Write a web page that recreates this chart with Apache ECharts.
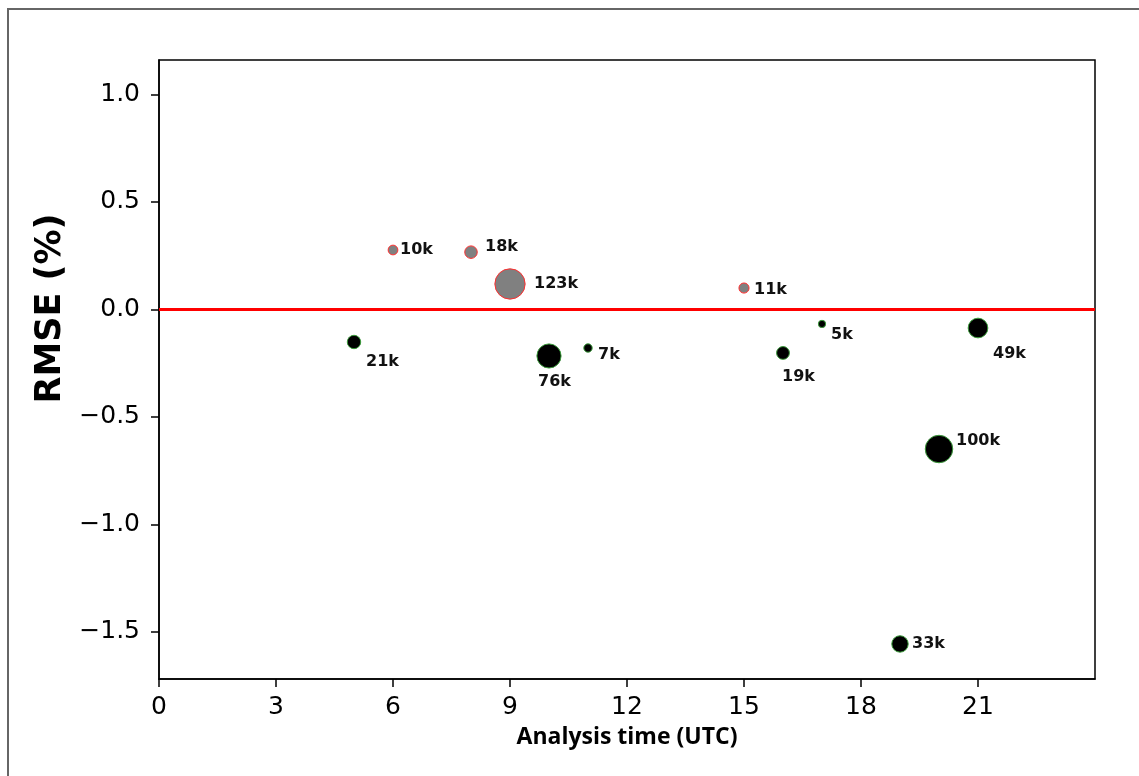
<!DOCTYPE html>
<html>

<head>
    <meta charset="utf-8">
    <title>RMSE by analysis time</title>
    <script src="https://cdn.jsdelivr.net/npm/echarts@6/dist/echarts.min.js"></script>
    <style>
        body { margin: 0; background: #fff; }
        #frame { position: absolute; left: 7px; top: 8px; width: 1140px; height: 780px;
                 border-left: 2px solid #666; border-top: 2px solid #666; }
        #main { position: absolute; left: 0; top: 0; width: 1139px; height: 776px; }
    </style>
</head>

<body>
    <div id="frame"></div>
    <div id="main"></div>
    <script type="text/javascript">

    // analysis hour, RMSE (%) and number of obs (k)
    var hours  = [5, 6, 8, 9, 10, 11, 15, 16, 17, 19, 20, 21];
    var rmse   = [-0.152, 0.276, 0.266, 0.118, -0.217, -0.180, 0.099, -0.203, -0.068, -1.557, -0.650, -0.087];
    var counts = [21, 10, 18, 123, 76, 7, 11, 19, 5, 33, 100, 49];

    var xTicks = [0, 3, 6, 9, 12, 15, 18, 21];
    var yTicks = [-1.5, -1.0, -0.5, 0.0, 0.5, 1.0];

    // where each count label sits relative to its dot (px)
    var labelOffsets = [[12, 20], [7, 0], [14, -5], [24, 0], [-11, 26], [10, 7],
                        [10, 2], [-1, 24], [9, 11], [12, 0], [17, -8], [15, 26]];

    var myChart = echarts.init(document.getElementById('main'));

    var posData = [], negData = [];
    hours.forEach(function (h, i) {
        var item = {
            value: [h, rmse[i], counts[i]],
            label: { offset: labelOffsets[i] }
        };
        if (rmse[i] > 0) posData.push(item); else negData.push(item);
    });

    function dotSize(v) {
        return 2.6 * Math.sqrt(v[2]) + 1.5;
    }

    var pointLabel = {
        show: true,
        position: 'inside',
        align: 'left',
        verticalAlign: 'middle',
        formatter: function (p) { return p.value[2] + 'k'; },
        fontFamily: 'DejaVu Sans',
        fontWeight: 'bold',
        fontSize: 16,
        color: '#111'
    };

    var option = {
        animation: false,
        backgroundColor: 'transparent',
        grid: {
            left: 159, top: 60, width: 936, height: 619,
            show: true, borderColor: '#000', borderWidth: 1.5, backgroundColor: 'transparent'
        },
        xAxis: {
            type: 'value',
            min: 0,
            max: 24,
            name: 'Analysis time (UTC)',
            nameLocation: 'middle',
            nameGap: 47,
            nameTextStyle: { fontFamily: 'Open Sans', fontWeight: 'bold', fontSize: 23, color: '#000' },
            axisLine: { onZero: false, lineStyle: { color: '#000', width: 1.5 } },
            axisTick: { show: true, inside: false, length: 8, customValues: xTicks,
                        lineStyle: { color: '#000', width: 1.5 } },
            axisLabel: { customValues: xTicks, margin: 16,
                         fontFamily: 'DejaVu Sans', fontSize: 25, color: '#000' },
            splitLine: { show: false }
        },
        yAxis: {
            type: 'value',
            min: -1.72,
            max: 1.16,
            name: 'RMSE (%)',
            nameLocation: 'middle',
            nameGap: 74,
            nameTextStyle: { fontFamily: 'DejaVu Sans', fontWeight: 'bold', fontSize: 35, color: '#000',
                             padding: [0, 0, 0, 122] },
            axisLine: { show: true, lineStyle: { color: '#000', width: 1.5 } },
            axisTick: { show: true, inside: false, length: 8, customValues: yTicks,
                        lineStyle: { color: '#000', width: 1.5 } },
            axisLabel: {
                customValues: yTicks,
                margin: 19,
                fontFamily: 'DejaVu Sans', fontSize: 25, color: '#000',
                formatter: function (v) { return v.toFixed(1).replace('-', '\u2212'); }
            },
            splitLine: { show: false }
        },
        series: [{
            name: 'positive',
            type: 'scatter',
            data: posData,
            symbolSize: dotSize,
            itemStyle: { color: '#808080', borderColor: '#ff3030', borderWidth: 1, opacity: 1 },
            label: pointLabel,
            markLine: {
                silent: true,
                symbol: ['none', 'none'],
                label: { show: false },
                lineStyle: { color: '#ff0000', width: 3, type: 'solid' },
                data: [{ yAxis: 0 }]
            },
            z: 3
        }, {
            name: 'negative',
            type: 'scatter',
            data: negData,
            symbolSize: dotSize,
            itemStyle: { color: '#000', borderColor: '#3a9a3a', borderWidth: 1, opacity: 1 },
            label: pointLabel,
            z: 3
        }]
    };

    myChart.setOption(option);
    </script>
</body>

</html>
